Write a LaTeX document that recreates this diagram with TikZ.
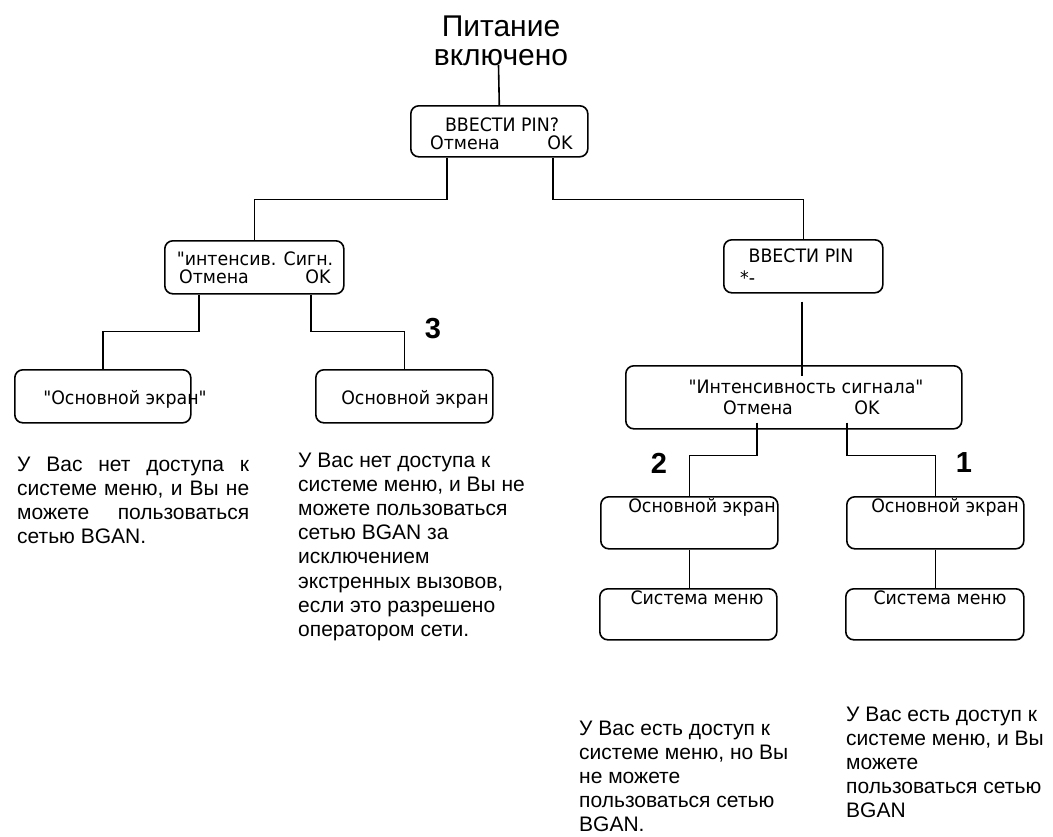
\documentclass[tikz,border=0pt]{standalone}
\usepackage{fontspec}
\setmainfont{Liberation Sans}
\newfontfamily\dvfont[FakeStretch=0.94]{DejaVu Sans}
\usetikzlibrary{calc}
\tikzset{
  box/.style={draw, line width=1.6pt, rounded corners=8pt, inner sep=0pt, anchor=north west},
  btxt/.style={font=\dvfont\fontsize{18.5}{20}\selectfont, inner sep=0pt, anchor=base},
  desc/.style={font=\fontsize{21}{24.2}\selectfont, inner sep=0pt, anchor=base west},
  num/.style={font=\bfseries\fontsize{29}{30}\selectfont, inner sep=0pt},
  conn/.style={line width=1.6pt}
}
\begin{document}
\begin{tikzpicture}[x=1pt,y=-1pt]
\useasboundingbox (0,0) rectangle (1053,836);
% title
\node[inner sep=0pt, anchor=base, font=\fontsize{30}{29.5}\selectfont] (title) at (501,36)
  {\parbox[t]{220pt}{\centering Питание\\включено}};
\coordinate (tl) at (498.5,65);
% boxes
\node[box, minimum width=177pt, minimum height=51pt] (b1) at (410,105) {};
\node[box, minimum width=179pt, minimum height=53pt] (b2) at (164,240) {};
\node[box, minimum width=159pt, minimum height=53pt] (b3) at (723,239) {};
\node[box, minimum width=176pt, minimum height=53pt] (b4) at (14,369) {};
\node[box, minimum width=177pt, minimum height=53pt] (b5) at (315,369) {};
\node[box, minimum width=336pt, minimum height=63pt] (b6) at (625,365) {};
\node[box, minimum width=177pt, minimum height=52pt] (b7) at (600,496) {};
\node[box, minimum width=177pt, minimum height=52pt] (b8) at (846,496) {};
\node[box, minimum width=177pt, minimum height=51pt] (b9) at (599,588) {};
\node[box, minimum width=178pt, minimum height=51pt] (b10) at (845,588) {};
% box texts
\node[btxt] (t1a) at (502,131.5) {ВВЕСТИ PIN?};
\node[btxt] (t1b) at (465,149.5) {Отмена};
\node[btxt] (t1c) at (560,149.5) {OK};
\node[btxt] (t2a) at (255,265) {"интенсив. Сигн.};
\node[btxt] (t2b) at (214,283) {Отмена};
\node[btxt] (t2c) at (318,283) {OK};
\node[btxt] (t3a) at (801,262) {ВВЕСТИ PIN};
\node[btxt, anchor=base west] (t3b) at (740,284) {*-};
\node[btxt] (t4) at (125,404) {"Основной экран"};
\node[btxt] (t5) at (415,404) {Основной экран};
\node[btxt] (t6a) at (806,393) {"Интенсивность сигнала"};
\node[btxt] (t6b) at (758,414) {Отмена};
\node[btxt] (t6c) at (867,414) {OK};
\node[btxt] (t7) at (702,512) {Основной экран};
\node[btxt] (t8) at (945,512) {Основной экран};
\node[btxt] (t9) at (697,604) {Система меню};
\node[btxt] (t10) at (940,604) {Система меню};
% numbers
\node[num] (n3) at (433,329) {3};
\node[num] (n2) at (659,463) {2};
\node[num] (n1) at (964,463) {1};
% connectors
\draw[conn] (tl) -- (b1.north);
\draw[conn] ([xshift=-52.5pt]b1.south) -- ++(0,42) -| (b2.north);
\draw[conn] ([xshift=53.5pt]b1.south) -- ++(0,42) -| (b3.north);
\draw[conn] ([xshift=-55.5pt]b2.south) -- ++(0,37) -| (b4.north);
\draw[conn] ([xshift=56.5pt]b2.south) -- ++(0,37) -| (b5.north);
\draw[conn] ($(b3.south)+(-1.5,8)$) -- ($(b6.north -| b3.south)+(-1.5,11)$);
\draw[conn] ($(b6.south)+(-37,-7)$) -- ++(0,33) -| (b7.north);
\draw[conn] ($(b6.south)+(53,-7)$) -- ++(0,33) -| (b8.north);
\draw[conn] (b7.south) -- (b7.south |- b9.north);
\draw[conn] (b8.south) -- (b8.south |- b10.north);
% descriptions
\node[desc] (d1) at (17,471) {\parbox[t]{232pt}{%
  \makebox[232pt][s]{У Вас нет доступа к}\\
  \makebox[232pt][s]{системе меню, и Вы не}\\
  \makebox[232pt][s]{можете пользоваться}\\
  сетью BGAN.}};
\node[desc] (d2) at (298,467) {\parbox[t]{300pt}{\raggedright
  У Вас нет доступа к\\
  системе меню, и Вы не\\
  можете пользоваться\\
  сетью BGAN за\\
  исключением\\
  экстренных вызовов,\\
  если это разрешено\\
  оператором сети.}};
\node[desc] (d3) at (579,735) {\parbox[t]{300pt}{\raggedright
  У Вас есть доступ к\\
  системе меню, но Вы\\
  не можете\\
  пользоваться сетью\\
  BGAN.}};
\node[desc] (d4) at (846,721) {\parbox[t]{300pt}{\raggedright
  У Вас есть доступ к\\
  системе меню, и Вы\\
  можете\\
  пользоваться сетью\\
  BGAN}};
\end{tikzpicture}
\end{document}
